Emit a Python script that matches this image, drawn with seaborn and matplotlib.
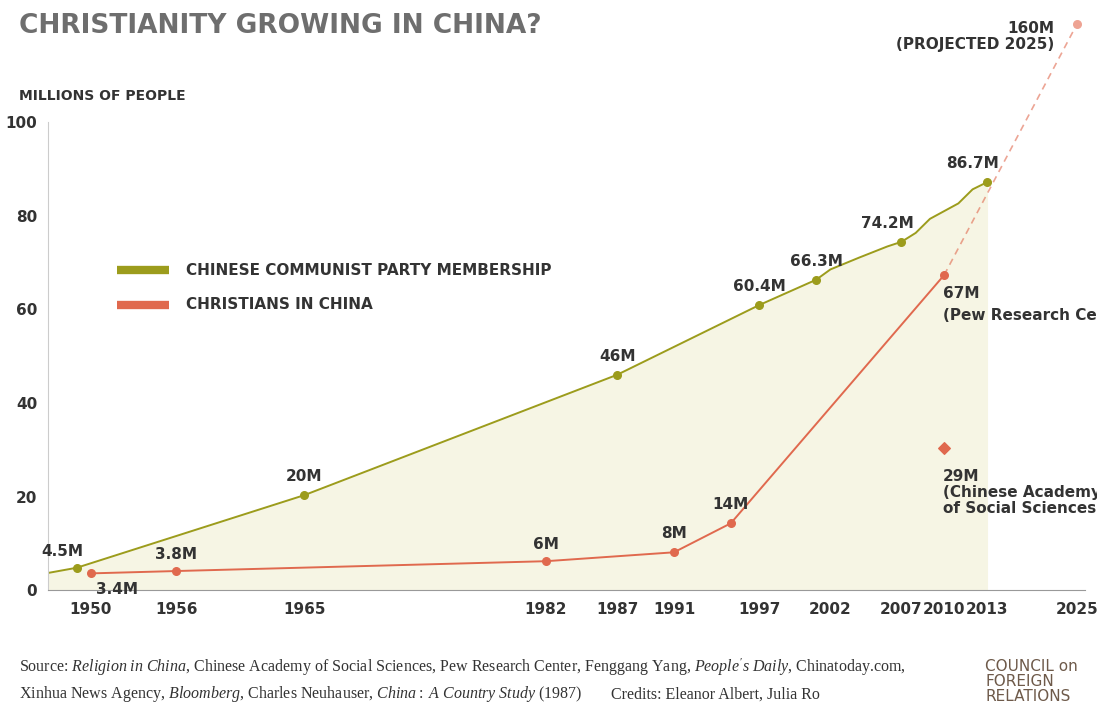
import numpy as np
import matplotlib
matplotlib.use('Agg')
import matplotlib.pyplot as plt
import seaborn as sns

# data
ccp_years = [1945, 1949, 1965, 1987, 1997, 1999, 2001, 2002, 2004, 2006, 2007, 2008, 2009, 2011, 2012, 2013]
ccp_values = [2.6, 4.8, 20.3, 46.0, 60.9, 63.6, 66.3, 68.5, 71.0, 73.4, 74.4, 76.3, 79.3, 82.6, 85.6, 87.1]
ccp_labels = {1949: '4.5M', 1965: '20M', 1987: '46M', 1997: '60.4M', 2001: '66.3M', 2007: '74.2M', 2013: '86.7M'}

chr_years = [1950, 1956, 1982, 1991, 1995, 2010]
chr_values = [3.6, 4.1, 6.2, 8.1, 14.3, 67.3]
chr_labels = ['3.4M', '3.8M', '6M', '8M', '14M', '67M']
proj_year, proj_value = 2025, 160
cass_year, cass_value = 2010, 30.3

tick_years = [1950, 1956, 1965, 1982, 1987, 1991, 1997, 2002, 2007, 2010, 2013, 2025]


def xpos(y):
    # axis is compressed after 2013
    y = np.asarray(y, dtype=float)
    return np.where(y > 2013, 2013 + (y - 2013) * 0.53, y)


def ypos(v):
    # projected value drawn above the 0-100 scale
    return 121.0 if v > 100 else v


green = '#9c9c1c'
red = '#e0694e'
text = '#333333'
fam = ['Liberation Sans Narrow', 'DejaVu Sans']

sns.set_style('white')
plt.rcParams['font.family'] = fam
plt.rcParams['mathtext.fontset'] = 'custom'
plt.rcParams['mathtext.it'] = 'Liberation Serif:italic'
plt.rcParams['mathtext.rm'] = 'Liberation Serif'
fig = plt.figure(figsize=(10.97, 7.26), dpi=100)
ax = fig.add_axes([0.044, 0.187, 0.945, 0.787])

ax.fill_between(xpos(ccp_years), ccp_values, color='#f6f5e4', zorder=0)
sns.lineplot(x=xpos(ccp_years), y=ccp_values, color=green, lw=1.4, ax=ax, sort=False)
pts = [y for y in ccp_years if y in ccp_labels]
ax.scatter(xpos(pts), [ccp_values[ccp_years.index(y)] for y in pts], color=green, s=30, zorder=3)
offs = {1949: (-1, 2.5), 1965: (0, 3), 1987: (0, 3), 1997: (0, 3), 2001: (0, 3), 2007: (-1, 3), 2013: (-1, 3)}
for y in pts:
    dx, dy = offs[y]
    ax.text(xpos(y) + dx, ccp_values[ccp_years.index(y)] + dy, ccp_labels[y], ha='center',
            fontsize=11, fontweight='bold', color=text)

sns.lineplot(x=xpos(chr_years), y=chr_values, color=red, lw=1.4, ax=ax, sort=False)
ax.scatter(xpos(chr_years), chr_values, color=red, s=30, zorder=3)
coffs = [(1.8, -4.3), (0, 2.5), (0, 2.5), (0, 3), (0, 3), (-0.1, -5)]
for y, v, l, (dx, dy) in zip(chr_years, chr_values, chr_labels, coffs):
    ax.text(xpos(y) + dx, v + dy, l, ha='left' if y == 2010 else 'center', fontsize=11,
            fontweight='bold', color=text)
ax.text(xpos(2010) - 0.1, 57.8, '(Pew Research Center)', fontsize=11, fontweight='bold', color=text)

ax.plot(xpos([2010, proj_year]), [67.3, ypos(proj_value)], color=red, ls=(0, (4, 3)), lw=1.2, alpha=0.6, clip_on=False)
ax.scatter(xpos([proj_year]), [ypos(proj_value)], color='#eea393', s=30, zorder=3, clip_on=False)
ax.text(xpos(proj_year) - 1.6, 115.5, '160M\n(PROJECTED 2025)', ha='right', fontsize=11,
        fontweight='bold', color=text, linespacing=1.1)

ax.scatter([xpos(cass_year)], [cass_value], marker='D', color=red, s=35, zorder=3)
ax.text(xpos(cass_year) - 0.1, 16.5, '29M\n(Chinese Academy\nof Social Sciences)', fontsize=11,
        fontweight='bold', color=text, linespacing=1.1)

ax.set_xlim(1947, 2019.9)
ax.set_ylim(0, 122)
ax.set_xticks(xpos(tick_years))
ax.set_xticklabels([str(t) for t in tick_years], fontsize=11, fontweight='bold', color=text)
ax.set_yticks([0, 20, 40, 60, 80, 100])
ax.set_yticklabels(['0', '20', '40', '60', '80', '100'], fontsize=11, fontweight='bold', color=text)
for s in ['top', 'right']:
    ax.spines[s].set_visible(False)
ax.spines['left'].set_bounds(0, 100)
ax.spines['left'].set_color('#cccccc')
ax.spines['bottom'].set_color('#999999')
ax.tick_params(axis='x', length=5, color='#999999', direction='out')
ax.tick_params(axis='y', length=4, color='#cccccc', direction='in', pad=8)

# legend
ax.plot([1951.8, 1955.5], [68.3, 68.3], color=green, lw=6, solid_capstyle='butt')
ax.text(1956.7, 68.3, 'CHINESE COMMUNIST PARTY MEMBERSHIP', va='center', fontsize=11, fontweight='bold', color=text)
ax.plot([1951.8, 1955.5], [61.0, 61.0], color=red, lw=6, solid_capstyle='butt')
ax.text(1956.7, 61.0, 'CHRISTIANS IN CHINA', va='center', fontsize=11, fontweight='bold', color=text)

fig.text(0.017, 0.955, 'CHRISTIANITY GROWING IN CHINA?', fontsize=19, fontweight='bold', color='#6e6e6e')
fig.text(0.017, 0.862, 'MILLIONS OF PEOPLE', fontsize=10, fontweight='bold', color=text)

serif = ['Liberation Serif', 'DejaVu Serif']
line1 = ("Source: $\\it{Religion\\ in\\ China}$, Chinese Academy of Social Sciences, Pew Research Center, "
         "Fenggang Yang, $\\it{People's\\ Daily}$, Chinatoday.com,")
line2 = "Xinhua News Agency, $\\it{Bloomberg}$, Charles Neuhauser, $\\it{China:\\ A\\ Country\\ Study\\ (1987)}$"
fig.text(0.017, 0.075, line1, fontsize=11.5, family=serif, color=text)
fig.text(0.017, 0.038, line2, fontsize=11.5, family=serif, color=text)
fig.text(0.557, 0.038, 'Credits: Eleanor Albert, Julia Ro', fontsize=11.5, family=serif, color=text)
fig.text(0.898, 0.035, 'COUNCIL on\nFOREIGN\nRELATIONS', fontsize=11, color='#6e5a4a', linespacing=1.0)

fig.savefig('out.png', dpi=100)
